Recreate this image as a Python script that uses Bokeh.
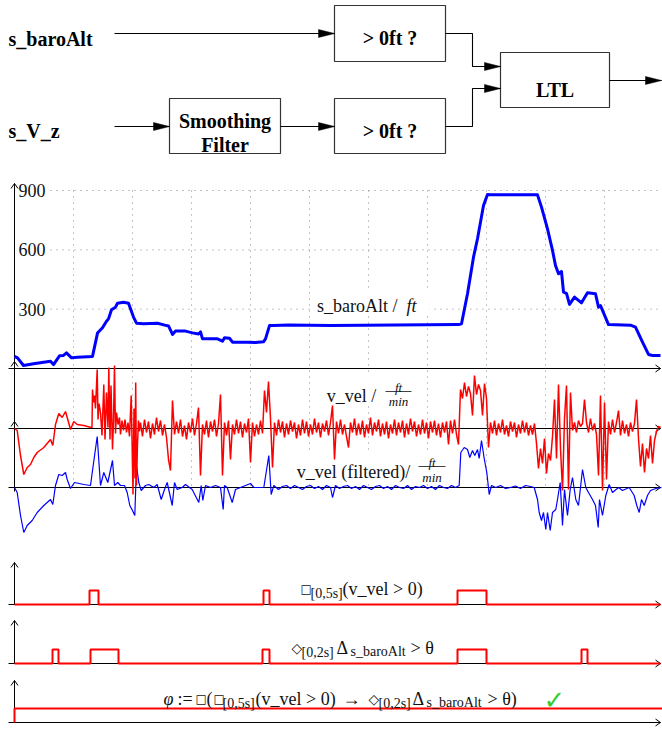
from bokeh.plotting import figure
from bokeh.models import Range1d
from bokeh.embed import file_html
from bokeh.resources import INLINE
from bokeh.core.properties import value

# ------------------------------------------------------------------ data
# time in s from the start of the record, grid every 59 s
grid_t = [59, 118, 177, 236, 295, 354, 413, 472, 531, 590]
alt_ticks = [300, 600, 900]
alt_tick_labels = ["300", "600", "900"]

# s_baroAlt in ft
alt_pts = [(0, 61), (3, 54), (9, 15), (19, 24), (36, 37), (39, 20), (45, 64), (49, 66), (52, 79), (57, 54),
           (63, 57), (78, 61), (83, 179), (88, 206), (92, 239), (94, 251), (97, 297), (101, 310), (103, 330),
           (109, 335), (114, 330), (119, 260), (122, 229), (129, 226), (143, 229), (145, 226), (152, 217),
           (154, 215), (158, 172), (161, 189), (171, 189), (178, 180), (184, 174), (186, 185), (188, 150),
           (203, 150), (208, 138), (210, 155), (215, 153), (218, 133), (233, 133), (241, 131), (249, 135),
           (251, 150), (255, 217), (259, 217), (274, 220), (316, 217), (349, 219), (444, 222), (447, 226),
           (453, 378), (459, 563), (463, 656), (469, 824), (473, 880), (476, 878), (523, 878), (527, 816),
           (533, 706), (538, 597), (541, 521), (544, 479), (547, 490), (549, 386), (552, 380), (555, 324),
           (560, 361), (567, 332), (573, 383), (581, 378), (584, 310), (586, 318), (594, 222), (616, 219),
           (621, 209), (628, 133), (634, 71), (638, 66), (646, 66)]

# v_vel in ft/min: irregular start, then samples every 2 s
vvel_head = [(0, 0), (2.7, -20), (6, -270), (9.3, -460), (12.7, -390), (16, -360), (19.3, -290), (22.7, -240),
             (29.3, -190), (36, -110), (38.3, -170), (41, 40), (44.3, 150), (47.7, 110), (51, 170), (52.7, 110),
             (56, -10), (59.3, 70), (62.7, 40), (69.3, 30), (76.7, 10), (77.5, 10), (78, 390), (79, 260),
             (80, 330), (81, 200), (82.7, 590), (83.5, 90), (84.5, 250), (86, 160), (87.5, -70), (89.3, 440),
             (90.5, -110), (92, 360), (93.5, 10), (94.3, 610), (95.5, -110), (96.5, 430), (98, -210), (99, 80),
             (100, 630), (101, -50), (102, 160), (103.5, 40), (105, 110), (106, -60), (107.5, 80), (109, -20),
             (110.5, 90), (112, -40), (113.5, 60), (115, -80), (116.7, 330), (117.5, -100), (118.5, -660),
             (119.5, 200), (120.5, -500), (121.2, 460), (122, -570), (123, -150), (124, 80), (125, -30)]
vvel_a_start = 126
vvel_a = [60, -80, 90, -40, 70, -100, 50, -60, 110, -30,
          80, -70, 40, -90, -310, -420, 280, -60, 70, -50,
          90, -80, 30, -110, 60, -40, 100, -70, 50, 210,
          -470, 40, -60, 80, -90, 70, -30, 90, -80, 50,
          340, -470, 60, -70, 80, -310, 40, -60, 90, -50,
          70, -90, 50, -40, 100, -340, 60, -80, 40, -60,
          80, -50, 380, 160, 470, 100, -390, 60, -70, 90,
          -40, 70, -90, 50, -60, 80, -30, 60, -100, 40,
          -70, 90, -50, 70, -80, 40, -60, 100, -40, 60,
          -90, 50, -30, 80, -70, 60, 230, -310, 70, -50,
          90, -60, 40, -80, -190, 60, -40, 100, -70, 50,
          -60, 80, -90, 40, -50, 110, -70, 60, -30, 90,
          -80, 50, -60, 70, -100, 40, -50, 90, -70, 60,
          -40, 80, -90, 50, -60, 100, -30, 70, -80, 40,
          -60, 90, -50, 60, -100, 70, -40, 80, -70, 50,
          -90, 60, -40, 70, -160, 80, -50, 90, -60, -160]
vvel_b_start = 446
vvel_b = [390, 300, 460, 320, 420, 350, 130, 530, 340, 440, 380, 130, 450, 300, -190, 60,
          -50, 80, -70, 50, -40, 90, -60, 30, -80, 70, -30, 60, -90, 40, -50, 80, -40, 60, -70, 30, -60, 50]
vvel_c_start = 522
vvel_c = [-150, -400, -200, -350, -100, -450, -250, -320, -80, 290, -300, 440, -200, -620, 100, 430,
          -610, 360, -20, 60, -40, 80, 20, 50, 290, 60, -40, 100, -20, 50, -60, -470, 330, -620, 260,
          -510, 70, -60, 90, -40, 60, 180, -70, 80, -50, 40, -80, 60, -30, 50, 290, -100, -380, -150,
          -440, -200, -300, -70, -350, -120, -30, 20, 10]
vvel_step = 2

# v_vel (filtered) in ft/min
vfilt_pts = [(0, 0), (2.7, -50), (6, -280), (9.3, -450), (12.7, -380), (17.7, -330), (22.7, -250), (29.3, -180),
             (36, -120), (38.3, -170), (41, 20), (44.3, 130), (47.7, 120), (51, 150), (52.7, 80), (56, -10),
             (60, 50), (69.3, 30), (76, 20), (78.7, 220), (82.7, 510), (86, 20), (89.3, 150), (93.3, 50),
             (98, 270), (100, 20), (103.3, 50), (106, 20), (110, 20), (112.7, -50), (115.3, -180), (118, -230),
             (120.3, -280), (122, 220), (124.3, 50), (126.7, -30), (131, 20), (134.3, 30), (139.3, 0),
             (142.7, 30), (146.7, -120), (150, -20), (152.7, 50), (157.7, -180), (160, 50), (162.7, -20),
             (167.7, 0), (171, 30), (177.7, -20), (184.3, -150), (186.7, 20), (188.3, -130), (191, 20),
             (196, 0), (201, 20), (206, 0), (208.7, -220), (210, 20), (212.7, 0), (217.7, -150), (221, -20),
             (226, 0), (236, 40), (239.3, 0), (249.3, 0), (254.3, 320), (256.7, -70), (259.3, 20), (264, -20),
             (268, 10), (272, 20), (276, -10), (280, 20), (284, 0), (288, -20), (292, 10), (296, 20),
             (300, -10), (304, 10), (308, -20), (312, 20), (316, 0), (318, -100), (321, 20), (325, -10),
             (329, 10), (333, 20), (337, -10), (341, 10), (345, -20), (349, 20), (353, 0), (357, -20),
             (361, 10), (365, 20), (369, -10), (373, 10), (377, -20), (381, 20), (385, 0), (389, -10),
             (393, 20), (397, -20), (401, 10), (405, 0), (409, 20), (413, -10), (417, 10), (421, -20),
             (425, 20), (429, 0), (433, -10), (437, 20), (441, 0), (444.7, 20), (446.3, 350), (449.7, 400),
             (453, 380), (455.3, 300), (458, 370), (460.3, 320), (463, 380), (464.7, 290), (467, 470),
             (469.7, 290), (472.3, 150), (474.7, -70), (477, 20), (481.3, 0), (486, 20), (491, -10), (496, 0),
             (501, 15), (506, -10), (511, 20), (516, 10), (519.7, 0), (523, -120), (524.7, -250), (527, -330),
             (529, -250), (531.3, -420), (533, -250), (535.7, -430), (538, -250), (541.3, -220), (543, -120),
             (545.7, 50), (548, -380), (550, -20), (553, -280), (555.7, -20), (558, 100), (561.3, -120),
             (564, -180), (568, 180), (571.3, 0), (574, -50), (578, -120), (581, -180), (583.7, -400),
             (585, -120), (588, -280), (591.3, -80), (594.7, 30), (598, -50), (604, 0), (608, -30),
             (614.7, 0), (619.7, -80), (622.3, -180), (624.7, -250), (627, -120), (629.7, -180), (633, -80),
             (636, -30), (641.3, -10), (647, 0)]

# boolean signals: (start, end) of the true intervals
box5_pulses = [(75, 84), (249, 255), (443, 472)]
dia2_pulses = [(38, 44), (76, 104), (248, 255), (443, 472), (567, 573)]
phi_pulses = [(0, 700)]
t_end = 646

# ------------------------------------------------------------------ layout
W, H = 662, 729
AX_X = 14                  # page x of t = 0


def yband(zero_y, per_px):
    return Range1d(start=(zero_y - H) * per_px, end=zero_y * per_px)


p = figure(width=W, height=H, output_backend="svg", toolbar_location=None,
           x_range=Range1d(0, W), y_range=Range1d(H, 0),
           x_axis_location=None, y_axis_location=None, min_border=0)
p.grid.visible = False
p.outline_line_color = None
p.background_fill_color = "white"
p.border_fill_color = "white"

p.extra_x_ranges = {"t": Range1d(-AX_X, W - AX_X)}
p.extra_y_ranges = {
    "alt": yband(368, 900 / 178),
    "vel": yband(428, 10),
    "velf": yband(487, 10),
    "s1": yband(604, 1 / 14),
    "s2": yband(663, 1 / 14),
    "s3": yband(722, 1 / 14),
}

SERIF = value("Liberation Serif")
SANS = value("DejaVu Sans")


def put(s, x, y, size, style="normal", font=SERIF, color="#111111", align="left", baseline="alphabetic"):
    p.text(x=[x], y=[y], text=[s], text_font=font, text_font_size=f"{size}px", text_font_style=style,
           text_color=color, text_align=align, text_baseline=baseline)


# ---- dotted grid
p.segment(x0=grid_t, x1=grid_t, y0=[190] * len(grid_t), y1=[487] * len(grid_t), x_range_name="t",
          line_color="#8a8a8a", line_width=1, line_dash="1 5")
p.segment(x0=[36] * 3, x1=[t_end] * 3, y0=alt_ticks, y1=alt_ticks, x_range_name="t", y_range_name="alt",
          line_color="#8a8a8a", line_width=1, line_dash="1 5")

# ---- white backgrounds of the plot labels
p.quad(left=[311, 321, 288], right=[429, 416, 449], top=[289, 374, 451], bottom=[313, 405, 481],
       fill_color="white", line_color=None)

# ---- axes with open arrow heads
XR = 660
axis_lines = [((14, 368), (14, 183)), ((8, 368), (XR, 368)), ((8, 428), (XR, 428)), ((8, 487), (XR, 487)),
              ((14, 491), (14, 361)),
              ((14, 604), (14, 562)), ((8, 604), (XR, 604)),
              ((14, 663), (14, 620)), ((8, 663), (XR, 663)),
              ((14, 722), (14, 680)), ((8, 722), (XR, 722))]
p.segment(x0=[a[0] for a, b in axis_lines], y0=[a[1] for a, b in axis_lines],
          x1=[b[0] for a, b in axis_lines], y1=[b[1] for a, b in axis_lines],
          line_color="black", line_width=1)
up_tips = [(14, 183), (14, 361), (14, 421), (14, 562), (14, 620), (14, 680)]
right_tips = [(XR, 368), (XR, 428), (XR, 487), (XR, 604), (XR, 663), (XR, 722)]
cx, cy = [], []
for x, y in up_tips:
    cx.append([x - 3.5, x, x + 3.5]); cy.append([y + 5, y, y + 5])
for x, y in right_tips:
    cx.append([x - 5, x, x - 5]); cy.append([y - 3.5, y, y + 3.5])
p.multi_line(xs=cx, ys=cy, line_color="black", line_width=1)

# ---- traces
p.line([t for t, _ in alt_pts], [v for _, v in alt_pts], x_range_name="t", y_range_name="alt",
       line_color="#0000ff", line_width=3, line_join="round")

p.line([t for t, _ in vfilt_pts], [v for _, v in vfilt_pts], x_range_name="t", y_range_name="velf",
       line_color="#0000ff", line_width=1.2)

vv_t = [t for t, _ in vvel_head]
vv_v = [v for _, v in vvel_head]
for start, vals in ((vvel_a_start, vvel_a), (vvel_b_start, vvel_b), (vvel_c_start, vvel_c)):
    vv_t += [start + vvel_step * i for i in range(len(vals))]
    vv_v += vals
p.line(vv_t, vv_v, x_range_name="t", y_range_name="vel", line_color="#ff0000", line_width=1.5)


def steps(pulses):
    xs, ys = [0], [0]
    for a, b in pulses:
        xs += [a, a, b, b]
        ys += [0, 1, 1, 0]
    xs.append(max(t_end, xs[-1]))
    ys.append(0)
    return xs, ys


for pulses, rn in ((box5_pulses, "s1"), (dia2_pulses, "s2"), (phi_pulses, "s3")):
    sx, sy = steps(pulses)
    p.line(sx, sy, x_range_name="t", y_range_name=rn, line_color="#ff0000", line_width=2)

# ---- block diagram
boxes = [(334, 445, 5, 61), (334, 445, 98, 153), (169, 280, 98, 153), (500, 609, 52, 107)]
p.quad(left=[b[0] for b in boxes], right=[b[1] for b in boxes], top=[b[2] for b in boxes],
       bottom=[b[3] for b in boxes], fill_color="white", line_color="#333333", line_width=1.2)
wires = [[(114, 33), (334, 33)], [(114, 126), (169, 126)], [(280, 126), (334, 126)],
         [(445, 33), (472, 33), (472, 66), (500, 66)], [(445, 126), (472, 126), (472, 88), (500, 88)],
         [(609, 80), (661, 80)]]
p.multi_line(xs=[[q[0] for q in w] for w in wires], ys=[[q[1] for q in w] for w in wires],
             line_color="black", line_width=1.1)
hx, hy = [], []
for w in wires:
    x, y = w[-1]
    hx.append([x - 16, x, x - 16]); hy.append([y - 4, y, y + 4])
p.patches(xs=hx, ys=hy, fill_color="black", line_color="black", line_width=0.5)

BOLD = dict(size=20, style="bold", color="black")
put("s_baroAlt", 8, 38.3, **BOLD)
put("s_V_z", 8, 130.7, **BOLD)
put("> 0ft ?", 389.5, 37.7, align="center", **BOLD)
put("> 0ft ?", 389.5, 130.7, align="center", **BOLD)
put("Smoothing", 224.5, 120.7, align="center", **BOLD)
put("Filter", 224.5, 144, align="center", **BOLD)
put("LTL", 554.5, 89.3, align="center", **BOLD)

# ---- tick labels of the altitude axis
p.text(x=[4] * 3, y=alt_ticks, text=alt_tick_labels, x_range_name="t", y_range_name="alt",
       text_font=SERIF, text_font_size="18px", text_color="#111111", text_baseline="middle")

# ---- plot labels
put("s_baroAlt / ", 359, 305, 18, align="center")
put("ft", 406, 305, 18, style="italic")
put("v_vel /", 351, 395, 18, align="center")
put("ft", 398, 386.5, 13, style="italic", align="center")
put("min", 398, 400.5, 13, style="italic", align="center")
put("v_vel (filtered)/", 353, 471, 18, align="center")
put("ft", 431.5, 462, 13, style="italic", align="center")
put("min", 431.5, 476.5, 13, style="italic", align="center")
p.segment(x0=[385, 418], x1=[411, 445], y0=[391, 466], y1=[391, 466], line_color="#111111", line_width=0.8)

# ---- signal labels
MS, SS = 18, 14
put("□", 300, 588, 12, font=SANS)
put("[0,5s]", 310, 593, SS)
put("(v_vel > 0)", 342, 588, MS)

put("◇", 291, 647, 14, font=SANS)
put("[0,2s]", 301, 652, SS)
put("Δ", 336, 647, MS)
put("s_baroAlt", 350, 651, SS)
put("> θ", 410, 647, MS)

B3 = 698
put("φ", 163, B3, MS, style="italic")
put(":=", 177, B3, MS)
put("□", 195, B3, 12, font=SANS)
put("(", 206, B3, MS)
put("□", 213, B3, 12, font=SANS)
put("[0,5s]", 222, B3 + 5, SS)
put("(v_vel > 0)", 255, B3, MS)
put("→", 342, B3, MS)
put("◇", 368, B3, 14, font=SANS)
put("[0,2s]", 378, B3 + 5, SS)
put("Δ", 412, B3, MS)
put("s_baroAlt", 426, B3 + 4, SS)
put("> θ)", 487, B3, MS)
put("✓", 543, B3 + 1, 26, font=SANS, color="#33cc33")

open("out.html", "w").write(file_html(p, INLINE))
